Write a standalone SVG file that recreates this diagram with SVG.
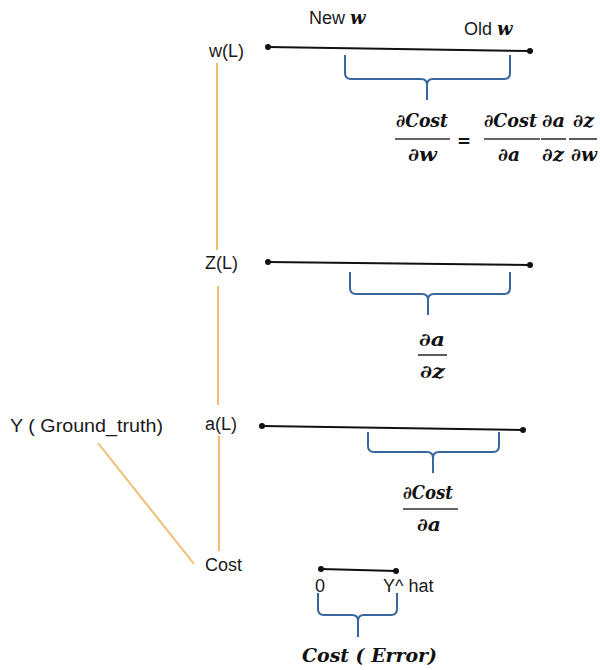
<svg xmlns="http://www.w3.org/2000/svg" width="600" height="670" viewBox="0 0 600 670">
<style>
.lbl{font-family:"Liberation Sans",Arial,sans-serif;font-size:18px;fill:#1a1a1a}
.m{font-family:"DejaVu Serif","Liberation Serif",serif;font-style:italic;font-weight:bold;font-size:18px;fill:#111}
.ax{stroke:#111;stroke-width:2;fill:none}
.dot{fill:#111}
.br{stroke:#3a66a0;stroke-width:2;fill:none}
.bar{stroke:#333;stroke-width:1.6}
.con{stroke:#f2bd72;stroke-width:2;fill:none}
</style>
<rect width="600" height="670" fill="#ffffff"/>
<g id="connectors">
<line class="con" x1="217" y1="63" x2="217" y2="250"/>
<line class="con" x1="218" y1="286" x2="218" y2="405"/>
<line class="con" x1="219" y1="436" x2="219" y2="551"/>
<line class="con" x1="98" y1="443" x2="194" y2="564"/>
</g>
<g id="node-wL">
<text class="lbl" x="209" y="57">w(L)</text>
<line class="ax" x1="268" y1="47" x2="530" y2="51"/>
<circle class="dot" cx="268" cy="47" r="3"/>
<circle class="dot" cx="530" cy="51" r="3"/>
<text class="lbl" x="309" y="24" font-size="19">New <tspan class="m" font-size="20">w</tspan></text>
<text class="lbl" x="464" y="35" font-size="19">Old <tspan class="m" font-size="20">w</tspan></text>
<path class="br" d="M345,55 L345,73 Q345,79 351,79 L421,79 Q427,79 427,85 L427,100 M427,85 Q427,79 433,79 L504,79 Q510,79 510,73 L510,55"/>
<text class="m" x="396" y="127" textLength="52" lengthAdjust="spacingAndGlyphs">∂Cost</text>
<line class="bar" x1="395" y1="139" x2="450" y2="139"/>
<text class="m" x="408" y="161" textLength="29" lengthAdjust="spacingAndGlyphs">∂w</text>
<text class="m" x="457" y="147" font-style="normal" textLength="14" lengthAdjust="spacingAndGlyphs">=</text>
<text class="m" x="484" y="127" textLength="53" lengthAdjust="spacingAndGlyphs">∂Cost</text>
<line class="bar" x1="484" y1="139" x2="540" y2="139"/>
<text class="m" x="498" y="161" textLength="22" lengthAdjust="spacingAndGlyphs">∂a</text>
<text class="m" x="542" y="127" textLength="23" lengthAdjust="spacingAndGlyphs">∂a</text>
<line class="bar" x1="541" y1="139" x2="566" y2="139"/>
<text class="m" x="542" y="161" textLength="22" lengthAdjust="spacingAndGlyphs">∂z</text>
<text class="m" x="573" y="127" textLength="21" lengthAdjust="spacingAndGlyphs">∂z</text>
<line class="bar" x1="569" y1="139" x2="597" y2="139"/>
<text class="m" x="571" y="161" textLength="26" lengthAdjust="spacingAndGlyphs">∂w</text>
</g>
<g id="node-zL">
<text class="lbl" x="205" y="269">Z(L)</text>
<line class="ax" x1="268" y1="262" x2="530" y2="265"/>
<circle class="dot" cx="268" cy="262" r="3"/>
<circle class="dot" cx="530" cy="265" r="3"/>
<path class="br" d="M350,272 L350,288 Q350,294 356,294 L422,294 Q428,294 428,300 L428,315 M428,300 Q428,294 434,294 L504,294 Q510,294 510,288 L510,272"/>
<text class="m" x="419" y="346" textLength="26" lengthAdjust="spacingAndGlyphs">∂a</text>
<line class="bar" x1="418" y1="355" x2="447" y2="355"/>
<text class="m" x="420" y="378" textLength="25" lengthAdjust="spacingAndGlyphs">∂z</text>
</g>
<g id="node-aL">
<text class="lbl" x="205" y="430">a(L)</text>
<line class="ax" x1="262" y1="426" x2="523" y2="430"/>
<circle class="dot" cx="262" cy="426" r="3"/>
<circle class="dot" cx="523" cy="430" r="3"/>
<path class="br" d="M368,432 L368,446 Q368,452 374,452 L427,452 Q433,452 433,458 L433,473 M433,458 Q433,452 439,452 L493,452 Q499,452 499,446 L499,432"/>
<text class="m" x="403" y="499" textLength="50" lengthAdjust="spacingAndGlyphs">∂Cost</text>
<line class="bar" x1="403" y1="509" x2="458" y2="509"/>
<text class="m" x="417" y="531" textLength="24" lengthAdjust="spacingAndGlyphs">∂a</text>
</g>
<g id="node-y">
<text class="lbl" x="10" y="432" textLength="153" lengthAdjust="spacingAndGlyphs">Y ( Ground_truth)</text>
</g>
<g id="node-cost">
<text class="lbl" x="205" y="571">Cost</text>
<line class="ax" x1="321" y1="569" x2="396" y2="571"/>
<circle class="dot" cx="321" cy="569" r="3"/>
<circle class="dot" cx="396" cy="571" r="3"/>
<text class="lbl" x="315" y="592">0</text>
<text class="lbl" x="383" y="592">Y^ hat</text>
<path class="br" d="M318,593 L318,609 Q318,615 324,615 L352,615 Q358,615 358,621 L358,637 M358,621 Q358,615 364,615 L391,615 Q397,615 397,609 L397,593"/>
<text class="m" x="302" y="662" font-size="20" textLength="135" lengthAdjust="spacingAndGlyphs">Cost ( Error)</text>
</g>
</svg>
